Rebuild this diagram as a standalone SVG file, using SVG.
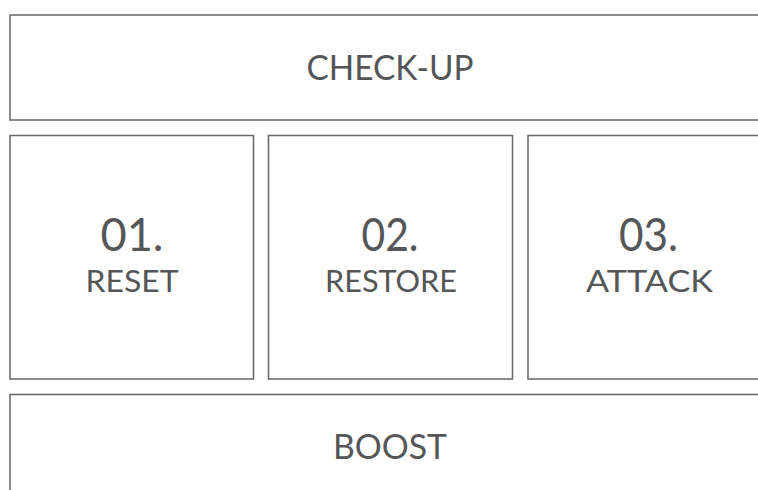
<svg xmlns="http://www.w3.org/2000/svg" width="758" height="490" viewBox="0 0 758 490">
<style>
.box{fill:#fff;stroke:#666;stroke-width:1.5}
.t{font-family:Lato,"Open Sans","Liberation Sans",sans-serif;font-weight:400;fill:#545658;text-anchor:middle}
.big{font-size:34px}
.num{font-size:46px}
.lbl{font-size:30px}
</style>
<rect width="758" height="490" fill="#fff"/>
<g id="checkup">
<rect class="box" x="10" y="15" width="760" height="105"/>
<text class="t big" x="390" y="79.5" textLength="167" lengthAdjust="spacingAndGlyphs">CHECK-UP</text>
</g>
<g id="reset">
<rect class="box" x="10" y="135.5" width="243.5" height="243.5"/>
<text class="t num" x="132" y="251" textLength="63" lengthAdjust="spacingAndGlyphs">01.</text>
<text class="t lbl" x="132" y="291.5" textLength="93" lengthAdjust="spacingAndGlyphs">RESET</text>
</g>
<g id="restore">
<rect class="box" x="268.5" y="135.5" width="244" height="243.5"/>
<text class="t num" x="390" y="251" textLength="57" lengthAdjust="spacingAndGlyphs">02.</text>
<text class="t lbl" x="391" y="291.5" textLength="132" lengthAdjust="spacingAndGlyphs">RESTORE</text>
</g>
<g id="attack">
<rect class="box" x="528" y="135.5" width="244" height="243.5"/>
<text class="t num" x="648.5" y="251" textLength="59" lengthAdjust="spacingAndGlyphs">03.</text>
<text class="t lbl" x="649.5" y="291.5" textLength="127" lengthAdjust="spacingAndGlyphs">ATTACK</text>
</g>
<g id="boost">
<rect class="box" x="10" y="394.5" width="760" height="120"/>
<text class="t big" x="390" y="459" textLength="114" lengthAdjust="spacingAndGlyphs">BOOST</text>
</g>
<g id="connectors"/>
</svg>
